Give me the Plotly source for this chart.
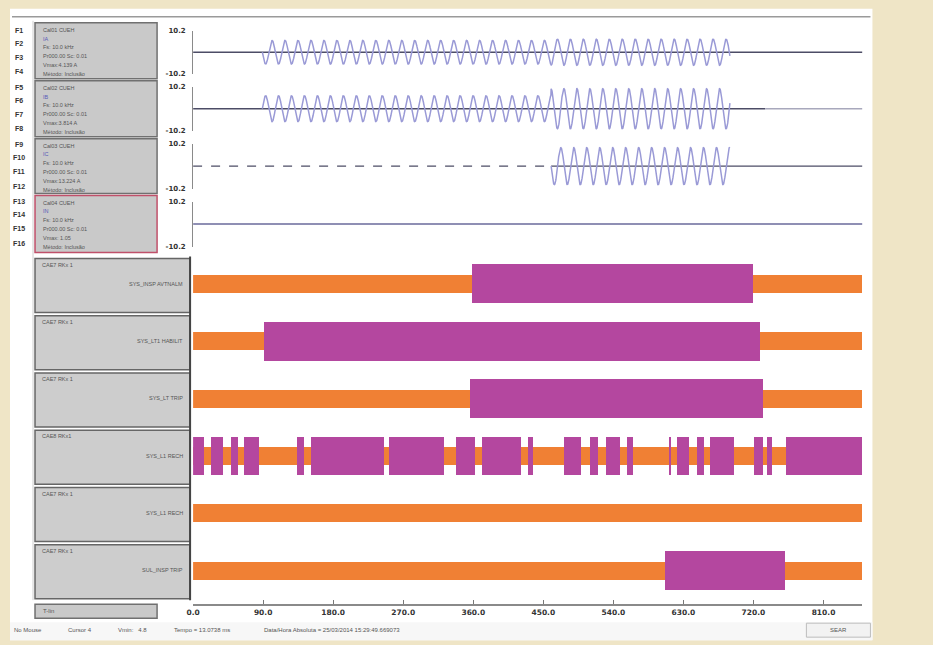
import numpy as np
import plotly.graph_objects as go

W, H = 933, 645

# ---------------- data ----------------
x_tick_vals = [0, 90, 180, 270, 360, 450, 540, 630, 720, 810]
x_tick_text = ["0.0", "90.0", "180.0", "270.0", "360.0", "450.0", "540.0", "630.0", "720.0", "810.0"]
time_end_ms = 860
y_limit = 10.2
freq_hz = 60

# analog channels: oscillation envelope segments (start ms, end ms, amplitude), first polarity
analog_segments = [
    [(89, 460, 5.6), (460, 690, 6.2)],
    [(89, 460, 6.0), (460, 690, 9.3)],
    [(460, 690, 8.4)],
    [],
]
analog_polarity = [-1, 1, -1, 1]
analog_box_text = [
    ["Cal01 CUEH", "IA", "Fs: 10.0 kHz", "Pr000.00 Sc: 0.01", "Vmax:4.139 A", "Método: Inclusão"],
    ["Cal02 CUEH", "IB", "Fs: 10.0 kHz", "Pr000.00 Sc: 0.01", "Vmax:3.814 A", "Método: Inclusão"],
    ["Cal03 CUEH", "IC", "Fs: 10.0 kHz", "Pr000.00 Sc: 0.01", "Vmax:13.224 A", "Método: Inclusão"],
    ["Cal04 CUEH", "IN", "Fs: 10.0 kHz", "Pr000.00 Sc: 0.01", "Vmax: 1.05", "Método: Inclusão"],
]
f_keys = ["F1", "F2", "F3", "F4", "F5", "F6", "F7", "F8",
          "F9", "F10", "F11", "F12", "F13", "F14", "F15", "F16"]

# digital channels: active (high) intervals in ms
digital_names = ["SYS_INSP AVTNALM", "SYS_LT1 HABILIT", "SYS_LT TRIP",
                 "SYS_L1 RECH", "SYS_L1 RECH", "SUL_INSP TRIP"]
digital_tags = ["CAE7 RKx 1", "CAE7 RKx 1", "CAE7 RKx 1", "CAE8 RKx1", "CAE7 RKx 1", "CAE7 RKx 1"]
digital_on = [
    [(359, 720)],
    [(91, 729)],
    [(356, 733)],
    [(0, 14), (23, 38), (48.5, 58), (65, 84.5), (134, 142), (152, 246), (252, 322),
     (338, 362), (371, 421), (430, 437), (477, 498), (510, 521), (530, 549), (558, 565),
     (611, 614), (622, 637), (648, 657), (664, 695), (721, 732.5), (738, 744.5), (762, 860)],
    [],
    [(607, 761)],
]

status_text = ["No Mouse", "Cursor 4", "Vmin:   4.8", "Tempo = 13.0738 ms",
               "Data/Hora Absoluta = 25/03/2014 15:29:49.669073"]

# ---------------- helpers (pixel -> paper, calibrated) ----------------
def px(x):
    return ((x - 7.0) / 0.992) / W

def py(y):
    return 1 - ((y - 3.2) / 0.9886) / H

FONT = "Liberation Sans, Arial, sans-serif"
LAV = "#9a9ad6"
DARK = "#4d4d66"
ORANGE = "#f08034"
MAGENTA = "#b4479f"

fig = go.Figure()

analog_px = [(30, 73), (86, 130), (143, 188), (201, 246)]

for i in range(4):
    ya = "y" if i == 0 else f"y{i + 1}"
    if i == 0:
        fig.add_trace(go.Scatter(x=[0, time_end_ms], y=[0, 0], mode="lines",
                                 line=dict(color=DARK, width=1.4), xaxis="x", yaxis=ya))
    elif i == 1:
        fig.add_trace(go.Scatter(x=[0, 735], y=[0, 0], mode="lines",
                                 line=dict(color=DARK, width=1.4), xaxis="x", yaxis=ya))
        fig.add_trace(go.Scatter(x=[735, time_end_ms], y=[0, 0], mode="lines",
                                 line=dict(color="#a8a8bc", width=1.4), xaxis="x", yaxis=ya))
    elif i == 2:
        fig.add_trace(go.Scatter(x=[0, 460], y=[0, 0], mode="lines",
                                 line=dict(color=DARK, width=1.4, dash="dash"), xaxis="x", yaxis=ya))
        fig.add_trace(go.Scatter(x=[460, time_end_ms], y=[0, 0], mode="lines",
                                 line=dict(color=DARK, width=1.4), xaxis="x", yaxis=ya))
    else:
        fig.add_trace(go.Scatter(x=[0, time_end_ms], y=[0, 0], mode="lines",
                                 line=dict(color="#8f8fb4", width=2), xaxis="x", yaxis=ya))
    segs = analog_segments[i]
    if segs:
        t0 = segs[0][0]
        ts, vs = [], []
        for (a, b, amp) in segs:
            t = np.arange(a, b, 0.25)
            v = analog_polarity[i] * amp * np.sin(2 * np.pi * freq_hz * (t - t0) / 1000.0)
            ts.extend(t.tolist())
            vs.extend(v.tolist())
        fig.add_trace(go.Scatter(x=ts, y=vs, mode="lines",
                                 line=dict(color=LAV, width=1.5), xaxis="x", yaxis=ya))

n_rows = len(digital_names)
fig.add_trace(go.Bar(orientation="h", y=list(range(n_rows)), base=[0] * n_rows,
                     x=[time_end_ms] * n_rows, width=0.31, marker=dict(color=ORANGE, line=dict(width=0)),
                     xaxis="x", yaxis="y5"))
mb, mx, my = [], [], []
for r, segs in enumerate(digital_on):
    for (a, b) in segs:
        mb.append(a)
        mx.append(b - a)
        my.append(r)
fig.add_trace(go.Bar(orientation="h", y=my, base=mb, x=mx, width=0.68,
                     marker=dict(color=MAGENTA, line=dict(width=0)),
                     xaxis="x", yaxis="y5"))

x0, x1 = 193, 862
layout = dict(
    width=W, height=H, margin=dict(l=0, r=0, t=0, b=0),
    paper_bgcolor="#efe5c6", plot_bgcolor="rgba(0,0,0,0)",
    showlegend=False, barmode="overlay", bargap=0,
    font=dict(family=FONT, color="#333"),
    xaxis=dict(domain=[px(x0), px(x1)], range=[0, time_end_ms], anchor="y5",
               tickvals=x_tick_vals, ticktext=[f"<b>{t}</b>" for t in x_tick_text],
               tickfont=dict(size=7.5, color="#333", family="DejaVu Sans"),
               ticks="inside", ticklen=4, tickcolor="#777",
               showline=True, linecolor="#8a8a8a", linewidth=1.5,
               showgrid=False, zeroline=False, fixedrange=True),
)
for i, (t, b) in enumerate(analog_px):
    key = "yaxis" if i == 0 else f"yaxis{i + 1}"
    layout[key] = dict(domain=[py(b), py(t)], range=[-y_limit, y_limit], anchor="x",
                       tickvals=[-y_limit, y_limit],
                       ticktext=[f"<b>-{y_limit}</b>", f"<b>{y_limit}</b>"],
                       tickfont=dict(size=7, color="#333", family="DejaVu Sans"),
                       ticks="", ticklabelstandoff=5,
                       showline=True, linecolor="#8a8a8a", linewidth=1,
                       showgrid=False, zeroline=False, fixedrange=True)
row_top, row_sp = 283, 57.4
d_top, d_bot = 254, 604
layout["yaxis5"] = dict(domain=[py(d_bot), py(d_top)],
                        range=[(d_bot - row_top) / row_sp, (d_top - row_top) / row_sp],
                        anchor="x", showticklabels=False, ticks="", showgrid=False,
                        zeroline=False, showline=False, fixedrange=True)

shapes = []
annotations = []

def rect(xa, ya, xb, yb, fill, line="#6e6e6e", lw=1, layer="below"):
    shapes.append(dict(type="rect", xref="paper", yref="paper",
                       x0=px(xa), x1=px(xb), y0=py(yb), y1=py(ya),
                       fillcolor=fill, line=dict(color=line, width=lw), layer=layer))

def text(x, y, s, size=6, color="#555", anchor="left", bold=False, family=FONT):
    annotations.append(dict(x=px(x), y=py(y), xref="paper", yref="paper",
                            text=f"<b>{s}</b>" if bold else s, showarrow=False,
                            xanchor=anchor, yanchor="middle",
                            font=dict(size=size, color=color, family=family)))

rect(10, 8, 872, 640, "#ffffff", line="#ffffff", lw=0)
shapes.append(dict(type="line", xref="paper", yref="paper", x0=px(12), x1=px(870),
                   y0=py(16), y1=py(16), line=dict(color="#9a9a9a", width=1.5), layer="below"))
shapes.append(dict(type="line", xref="paper", yref="paper", x0=px(33), x1=px(33),
                   y0=py(600), y1=py(20), line=dict(color="#cfcfcf", width=1), layer="below"))

box_px = [(22, 78), (80, 136), (138, 193), (195, 252)]
for i, (ta, tb) in enumerate(box_px):
    rect(35, ta, 157, tb, "#c9c9c9", line="#c0506a" if i == 3 else "#707070", lw=1.5)
    for k, s in enumerate(analog_box_text[i]):
        col = "#5a5ab8" if k == 1 else "#555"
        text(41, ta + 7 + k * 8.8, s, size=5.5, color=col)
f_y = [30, 43, 57, 71, 87, 100, 114, 128, 144, 157, 171, 186, 201, 214, 228, 243]
for f, yk in zip(f_keys, f_y):
    text(19, yk, f, size=7, color="#333", anchor="center", bold=True)

for r in range(n_rows):
    ta = 258 + r * 57.3
    tb = ta + 54
    rect(35, ta, 190, tb, "#cdcdcd", line="#666", lw=1.5)
    text(40, ta + 6, digital_tags[r], size=5.5, color="#555")
    text(185, row_top + r * row_sp, digital_names[r], size=5.5, color="#555", anchor="right")
shapes.append(dict(type="line", xref="paper", yref="paper", x0=px(190), x1=px(190),
                   y0=py(600), y1=py(256), line=dict(color="#444", width=2), layer="below"))

rect(35, 604, 157, 618, "#c9c9c9", line="#707070", lw=1.5)
text(41, 611, "T-lin", size=6, color="#555")

rect(10, 622, 872, 640, "#f7f7f7", line="#f7f7f7", lw=0)
status_x = [12, 66, 116, 172, 262]
for s, xx in zip(status_text, status_x):
    text(xx, 630, s, size=6, color="#555")
rect(806, 623, 870, 637, "#f2f2f2", line="#bdbdbd", lw=1)
text(838, 630, "SEAR", size=6, color="#555", anchor="center")

layout["shapes"] = shapes
layout["annotations"] = annotations
fig.update_layout(**layout)

post = """
document.documentElement.style.margin='0';
document.documentElement.style.overflow='hidden';
document.body.style.margin='0';
document.body.style.overflow='hidden';
"""
fig.write_html("out.html", config={"displayModeBar": False}, post_script=post)
